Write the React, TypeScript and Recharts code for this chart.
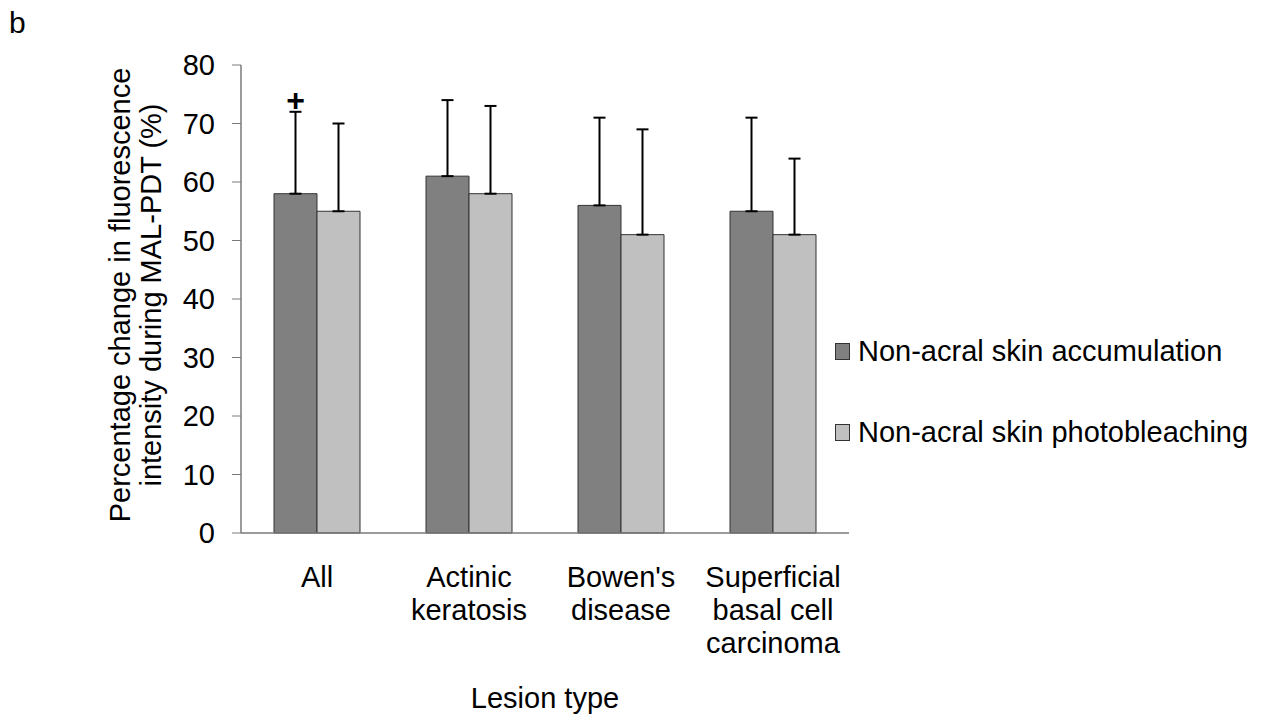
import React from "react";
import {
  BarChart,
  Bar,
  XAxis,
  YAxis,
  Legend,
  ErrorBar,
  LabelList,
} from "recharts";

const categories = [
  "All",
  "Actinic\nkeratosis",
  "Bowen's\ndisease",
  "Superficial\nbasal cell\ncarcinoma",
];
const accumulation = [58, 61, 56, 55];
const photobleaching = [55, 58, 51, 51];
const accumulationSd = [14, 13, 15, 16];
const photobleachingSd = [15, 15, 18, 13];
const yTicks = [0, 10, 20, 30, 40, 50, 60, 70, 80];
const marks = ["+", "", "", ""];

const seriesNames = [
  "Non-acral skin accumulation",
  "Non-acral skin photobleaching",
];
const colors = ["#808080", "#c0c0c0"];

const data = categories.map((name, i) => ({
  name,
  acc: accumulation[i],
  photo: photobleaching[i],
  accErr: [0, accumulationSd[i]],
  photoErr: [0, photobleachingSd[i]],
  mark: marks[i],
}));

const FONT = "'Liberation Sans', Arial, sans-serif";
const FS = 29;

const XTick = (props: any) => {
  const { x, y, payload } = props;
  const lines = String(payload.value).split("\n");
  return (
    <text
      x={x}
      y={y}
      textAnchor="middle"
      fontFamily={FONT}
      fontSize={FS}
      fill="#000"
    >
      {lines.map((l, i) => (
        <tspan key={i} x={x} dy={i === 0 ? 46 : 33}>
          {l}
        </tspan>
      ))}
    </text>
  );
};

const YLabel = () => (
  <text
    transform="translate(130, 295) rotate(-90)"
    textAnchor="middle"
    fontFamily={FONT}
    fontSize={FS}
    fill="#000"
  >
    <tspan x={0} dy={0}>
      Percentage change in fluorescence
    </tspan>
    <tspan x={0} dy={31}>
      intensity during MAL-PDT (%)
    </tspan>
  </text>
);

const MarkLabel = (props: any) => {
  const { x, width, value } = props;
  if (!value) return null;
  return (
    <text
      x={x + width / 2}
      y={111}
      textAnchor="middle"
      fontFamily={FONT}
      fontSize={32}
      fontWeight="bold"
      fill="#000"
    >
      {value}
    </text>
  );
};

const LegendContent = () => (
  <div style={{ fontFamily: FONT, fontSize: FS, color: "#000" }}>
    {seriesNames.map((n, i) => (
      <div
        key={n}
        style={{
          display: "flex",
          alignItems: "center",
          height: 41,
          marginBottom: i === 0 ? 40 : 0,
          whiteSpace: "nowrap",
        }}
      >
        <span
          style={{
            display: "inline-block",
            width: 13,
            height: 15,
            background: colors[i],
            border: "1px solid #333",
            marginRight: 8,
            flex: "none",
          }}
        />
        {n}
      </div>
    ))}
  </div>
);

export default function App() {
  return (
    <div
      style={{
        position: "absolute",
        left: 0,
        top: 0,
        width: 1263,
        height: 716,
        background: "#fff",
      }}
    >
      <div
        style={{
          position: "absolute",
          left: 9,
          top: 6,
          fontFamily: FONT,
          fontSize: 30,
          lineHeight: "34px",
        }}
      >
        b
      </div>
      <BarChart
        width={1263}
        height={716}
        data={data}
        barGap={0}
        barSize={43}
        margin={{ top: 65, right: 14, left: 181, bottom: 0 }}
      >
        <XAxis
          dataKey="name"
          height={183}
          tickLine={false}
          axisLine={{ stroke: "#7a7a7a", strokeWidth: 1.5 }}
          tick={<XTick />}
          interval={0}
          label={{
            value: "Lesion type",
            position: "insideBottom",
            offset: 8,
            fontFamily: FONT,
            fontSize: FS,
            fill: "#000",
          }}
        />
        <YAxis
          width={60}
          domain={[0, 80]}
          ticks={yTicks}
          interval={0}
          tickSize={9}
          tickMargin={17}
          tickLine={{ stroke: "#7a7a7a" }}
          axisLine={{ stroke: "#7a7a7a", strokeWidth: 1.5 }}
          tick={{ fontFamily: FONT, fontSize: FS, fill: "#000" }}
          label={<YLabel />}
        />
        <Legend
          layout="vertical"
          align="right"
          verticalAlign="middle"
          width={400}
          content={<LegendContent />}
          wrapperStyle={{ left: 835, top: 331 }}
        />
        <Bar
          dataKey="acc"
          name={seriesNames[0]}
          fill={colors[0]}
          stroke="#333"
          strokeWidth={1}
          isAnimationActive={false}
        >
          <ErrorBar
            dataKey="accErr"
            width={6}
            stroke="#000"
            strokeWidth={2}
            isAnimationActive={false}
          />
          <LabelList dataKey="mark" content={<MarkLabel />} />
        </Bar>
        <Bar
          dataKey="photo"
          name={seriesNames[1]}
          fill={colors[1]}
          stroke="#333"
          strokeWidth={1}
          isAnimationActive={false}
        >
          <ErrorBar
            dataKey="photoErr"
            width={6}
            stroke="#000"
            strokeWidth={2}
            isAnimationActive={false}
          />
        </Bar>
      </BarChart>
    </div>
  );
}
